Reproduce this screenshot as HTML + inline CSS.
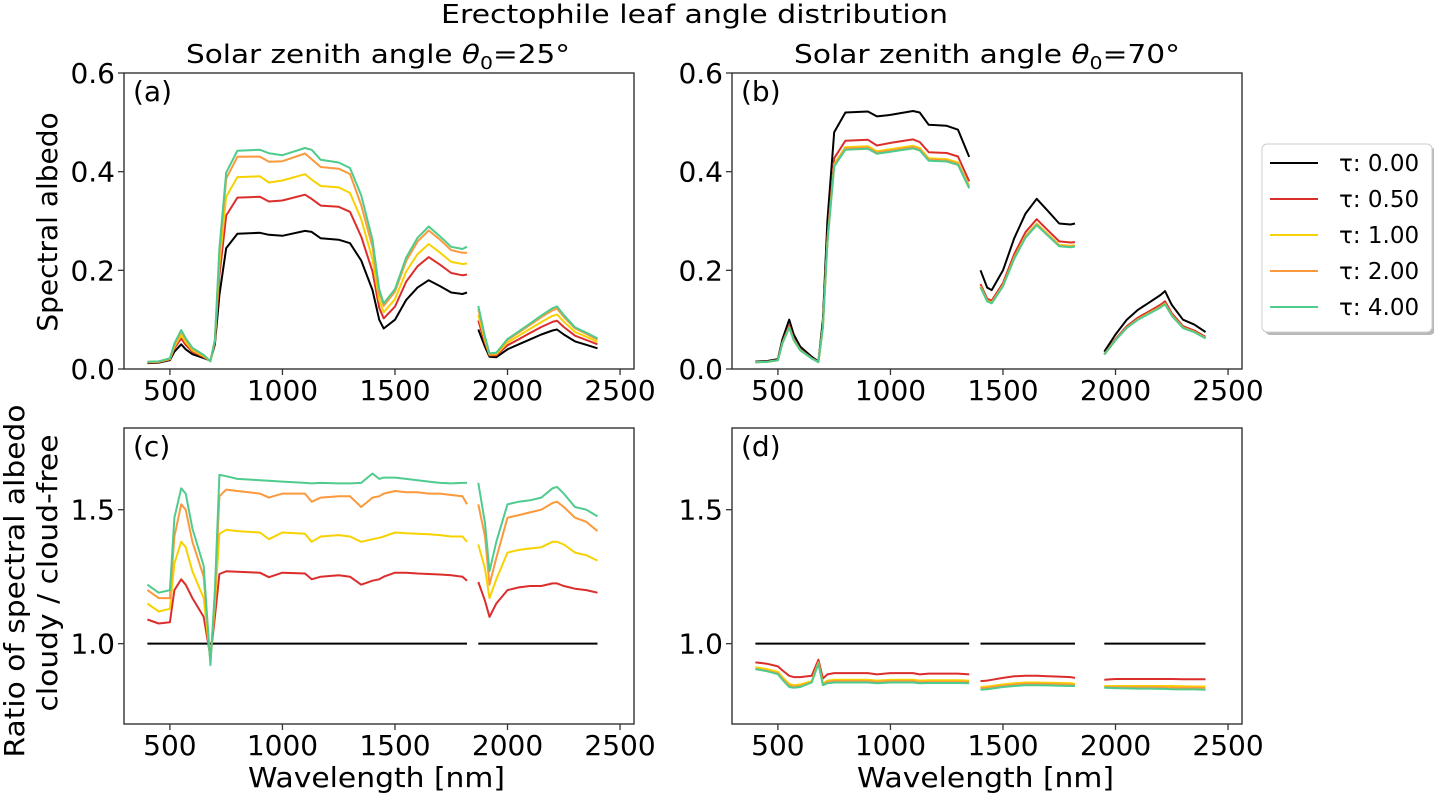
<!DOCTYPE html>
<html><head><meta charset="utf-8"><style>
html,body{margin:0;padding:0;background:#fff}
svg{display:block;font-family:"DejaVu Sans","Liberation Sans",sans-serif}
</style></head><body>
<svg id="fig" width="1434" height="795" viewBox="0 0 1434 795">
<text x="441" y="23" font-size="26" textLength="507" lengthAdjust="spacingAndGlyphs">Erectophile leaf angle distribution</text>
<text x="186" y="63" font-size="26" textLength="384" lengthAdjust="spacingAndGlyphs">Solar zenith angle <tspan font-style="italic">θ</tspan><tspan font-size="18" dy="6">0</tspan><tspan dy="-6">=25°</tspan></text>
<text x="794" y="63" font-size="26" textLength="386" lengthAdjust="spacingAndGlyphs">Solar zenith angle <tspan font-style="italic">θ</tspan><tspan font-size="18" dy="6">0</tspan><tspan dy="-6">=70°</tspan></text>
<text transform="translate(57,222) rotate(-90)" font-size="28" text-anchor="middle">Spectral albedo</text>
<text transform="translate(24,581) rotate(-90)" font-size="28" text-anchor="middle" textLength="353" lengthAdjust="spacingAndGlyphs">Ratio of spectral albedo</text>
<text transform="translate(57,573) rotate(-90)" font-size="28" text-anchor="middle" textLength="277" lengthAdjust="spacingAndGlyphs">cloudy / cloud-free</text>
<text x="248" y="787" font-size="28" textLength="257" lengthAdjust="spacingAndGlyphs">Wavelength [nm]</text>
<text x="857" y="787" font-size="28" textLength="257" lengthAdjust="spacingAndGlyphs">Wavelength [nm]</text>
<g id="plots"></g>
<g>
<rect x="1265" y="147" width="170" height="188" rx="5" fill="#b8b8b8"/>
<rect x="1262" y="144" width="170" height="188" rx="5" fill="#fff" stroke="#ccc"/>
<g id="legend-items"></g>
</g>
</svg>
<script>
const wavelengths=[400,450,500,520,550,570,600,650,680,700,720,750,800,900,940,1000,1100,1130,1170,1250,1300,1350,1400,1430,1450,1500,1550,1600,1650,1700,1750,1800,1820,1870,1900,1920,1950,2000,2050,2100,2150,2200,2220,2250,2300,2350,2400];
const albedo25=[.012,.013,.018,.035,.05,.04,.03,.022,.017,.05,.15,.245,.274,.276,.272,.27,.28,.278,.265,.262,.255,.22,.16,.1,.082,.1,.14,.165,.18,.168,.155,.152,.155,.08,.045,.025,.024,.04,.05,.06,.07,.078,.08,.07,.056,.049,.042];
const albedo70=[.015,.016,.02,.06,.1,.07,.045,.025,.015,.1,.3,.48,.52,.522,.512,.515,.523,.52,.495,.493,.485,.43,.2,.165,.16,.2,.265,.315,.345,.32,.295,.293,.295,null,null,null,.035,.07,.1,.12,.135,.15,.158,.13,.1,.09,.075];
const ratio25_t050=[1.09,1.075,1.08,1.2,1.24,1.22,1.17,1.1,.95,1.1,1.26,1.27,1.268,1.265,1.248,1.265,1.262,1.24,1.25,1.255,1.25,1.22,1.235,1.24,1.25,1.265,1.265,1.262,1.26,1.258,1.255,1.25,1.235,1.23,1.16,1.1,1.15,1.2,1.21,1.215,1.215,1.225,1.225,1.215,1.205,1.2,1.19];
const ratio25_t100=[1.15,1.12,1.13,1.3,1.38,1.36,1.27,1.17,.94,1.15,1.41,1.425,1.42,1.415,1.39,1.415,1.41,1.38,1.4,1.405,1.4,1.38,1.39,1.395,1.4,1.415,1.412,1.41,1.408,1.405,1.4,1.4,1.38,1.37,1.28,1.17,1.24,1.34,1.35,1.355,1.36,1.38,1.38,1.37,1.34,1.33,1.31];
const ratio25_t200=[1.2,1.17,1.17,1.4,1.52,1.5,1.38,1.25,.93,1.18,1.55,1.575,1.57,1.56,1.545,1.56,1.56,1.53,1.545,1.55,1.55,1.51,1.545,1.55,1.56,1.57,1.565,1.565,1.56,1.56,1.555,1.55,1.52,1.52,1.4,1.22,1.32,1.47,1.48,1.49,1.5,1.525,1.53,1.51,1.47,1.455,1.42];
const ratio25_t400=[1.22,1.19,1.2,1.47,1.58,1.56,1.43,1.29,.92,1.2,1.63,1.625,1.615,1.61,1.608,1.605,1.6,1.598,1.6,1.598,1.598,1.6,1.635,1.615,1.62,1.62,1.615,1.61,1.605,1.6,1.598,1.6,1.6,1.6,1.45,1.27,1.38,1.52,1.53,1.535,1.545,1.58,1.585,1.56,1.51,1.5,1.475];
const ratio70_t050=[.93,.925,.915,.9,.88,.875,.875,.88,.94,.87,.885,.89,.89,.89,.885,.89,.89,.885,.888,.888,.888,.885,.86,.862,.865,.872,.878,.88,.88,.878,.877,.875,.872,null,null,null,.865,.868,.868,.868,.868,.868,.868,.868,.867,.867,.867];
const ratio70_t100=[.912,.905,.895,.875,.85,.845,.848,.86,.93,.852,.862,.865,.865,.865,.862,.865,.865,.862,.863,.863,.863,.862,.838,.84,.842,.848,.852,.855,.855,.854,.853,.852,.85,null,null,null,.842,.842,.842,.842,.842,.842,.842,.842,.841,.84,.84];
const ratio70_t200=[.906,.899,.889,.869,.844,.839,.842,.856,.928,.848,.857,.86,.86,.86,.857,.86,.86,.857,.858,.858,.858,.857,.833,.835,.837,.843,.847,.85,.85,.849,.848,.847,.845,null,null,null,.838,.837,.837,.837,.837,.837,.836,.836,.835,.835,.834];
const ratio70_t400=[.905,.897,.886,.865,.838,.835,.838,.855,.925,.845,.852,.855,.855,.855,.852,.855,.855,.852,.853,.853,.853,.852,.828,.83,.832,.838,.842,.845,.845,.844,.843,.842,.842,null,null,null,.835,.834,.833,.832,.832,.831,.831,.83,.829,.829,.828];
const seriesNames=["τ: 0.00","τ: 0.50","τ: 1.00","τ: 2.00","τ: 4.00"];
const seriesKeys=["t000","t050","t100","t200","t400"];
const colors=["#000000","#dc2d2d","#f8d200","#fb993c","#4ecb8d"];
const xTicks=[500,1000,1500,2000,2500];
const yTicksTop=[0.0,0.2,0.4,0.6];
const yTicksBottom=[1.0,1.5];

const NS="http://www.w3.org/2000/svg";
const plots=document.getElementById('plots');
function mk(tag,attrs,parent){const e=document.createElementNS(NS,tag);for(const k in attrs)e.setAttribute(k,attrs[k]);parent.appendChild(e);return e;}

const panels=[
 {id:'a',left:124,right:634,top:73,bottom:369,ymin:0,ymax:0.6,yt:yTicksTop,base:albedo25,r:[ratio25_t050,ratio25_t100,ratio25_t200,ratio25_t400],ratio:false,breaks:[32]},
 {id:'b',left:732,right:1242,top:73,bottom:369,ymin:0,ymax:0.6,yt:yTicksTop,base:albedo70,r:[ratio70_t050,ratio70_t100,ratio70_t200,ratio70_t400],ratio:false,breaks:[21,32]},
 {id:'c',left:124,right:634,top:428,bottom:724,ymin:0.70,ymax:1.805,yt:yTicksBottom,base:albedo25,r:[ratio25_t050,ratio25_t100,ratio25_t200,ratio25_t400],ratio:true,breaks:[32]},
 {id:'d',left:732,right:1242,top:428,bottom:724,ymin:0.70,ymax:1.805,yt:yTicksBottom,base:albedo70,r:[ratio70_t050,ratio70_t100,ratio70_t200,ratio70_t400],ratio:true,breaks:[21,32]}
];
const XMIN=296,XMAX=2562;

panels.forEach(p=>{
 const g=mk('g',{},plots);
 
 
 const xs=w=>p.left+(w-XMIN)*(p.right-p.left)/(XMAX-XMIN);
 const ys=v=>p.bottom-(v-p.ymin)*(p.bottom-p.top)/(p.ymax-p.ymin);
 for(let s=0;s<5;s++){
  const vals=wavelengths.map((w,i)=>{
   const b=p.base[i]; if(b===null||b===undefined)return null;
   if(s===0) return p.ratio?1.0:b;
   const r=p.r[s-1][i]; if(r===null)return null;
   return p.ratio?r:b*r;
  });
  let d='',pen=false;
  vals.forEach((v,i)=>{
   if(v===null){pen=false;return;}
   d+=(pen?'L':'M')+xs(wavelengths[i]).toFixed(1)+' '+ys(v).toFixed(1)+' ';
   pen=!p.breaks.includes(i);
  });
  const path=mk('path',{d:d,fill:'none',stroke:colors[s],'stroke-width':2,'stroke-linejoin':'round'},g);
  
  
 }
 const frame=mk('rect',{x:p.left,y:p.top,width:p.right-p.left,height:p.bottom-p.top,fill:'none',stroke:'#333','stroke-width':1.4},g);
 
 
 xTicks.forEach(t=>{
  const x=xs(t);
  mk('line',{x1:x,x2:x,y1:p.bottom,y2:p.bottom+6,stroke:'#333','stroke-width':1.3},g);
  const tx=mk('text',{x:x,y:p.bottom+31,'font-size':28,'text-anchor':'middle'},g);
  tx.textContent=t;
  
  
 });
 p.yt.forEach(t=>{
  const y=ys(t);
  mk('line',{x1:p.left-6,x2:p.left,y1:y,y2:y,stroke:'#333','stroke-width':1.3},g);
  const tx=mk('text',{x:p.left-9,y:y+10,'font-size':28,'text-anchor':'end'},g);
  tx.textContent=t.toFixed(1);
  
  
 });
 const lab=mk('text',{x:p.left+9,y:p.top+28,'font-size':28},g);
 lab.textContent='('+p.id+')';
 
 
});

const lg=document.getElementById('legend-items');
seriesNames.forEach((n,i)=>{
 const y=163+i*36;
 const item=mk('g',{},lg);
 
 
 mk('line',{x1:1270,x2:1318,y1:y,y2:y,stroke:colors[i],'stroke-width':2},item);
 const t=mk('text',{x:1339,y:y+8,'font-size':23},item);
 t.textContent=n;
});
</script>
</body></html>
